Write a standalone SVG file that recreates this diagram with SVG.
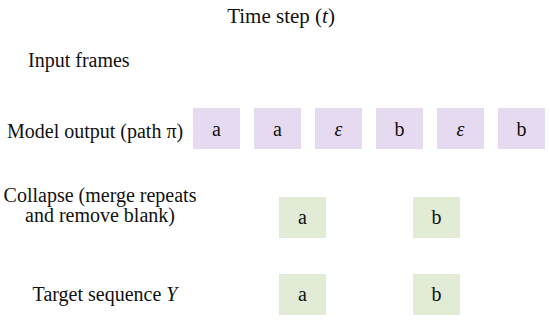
<svg xmlns="http://www.w3.org/2000/svg" width="550" height="322" viewBox="0 0 550 322">
<style>
text{font-size:20px;fill:#111}
.c{text-anchor:middle}
.p{fill:#E6DAF0}
.g{fill:#E2EBD5}
</style>
<rect width="550" height="322" fill="#fff"/>
<g font-family="Liberation Serif, Tinos, Times New Roman, DejaVu Serif, serif">
<g id="title"><text class="c" x="281" y="23" style="font-size:21px">Time step (<tspan font-style="italic">t</tspan>)</text></g>
<g id="label-input"><text x="28" y="67">Input frames</text></g>
<g id="label-model"><text x="7" y="138">Model output (path π)</text></g>
<g id="label-collapse"><text class="c" x="100" y="202">Collapse (merge repeats</text><text class="c" x="100" y="222">and remove blank)</text></g>
<g id="label-target"><text class="c" x="105" y="301">Target sequence <tspan font-style="italic">Y</tspan></text></g>
<g id="m1"><rect class="p" x="193" y="108" width="47" height="41"/><text class="c" x="216.5" y="136">a</text></g>
<g id="m2"><rect class="p" x="254" y="108" width="47" height="41"/><text class="c" x="277.5" y="136">a</text></g>
<g id="m3"><rect class="p" x="315" y="108" width="47" height="41"/><text class="c" x="338.5" y="136" font-style="italic">ε</text></g>
<g id="m4"><rect class="p" x="376" y="108" width="47" height="41"/><text class="c" x="399.5" y="136">b</text></g>
<g id="m5"><rect class="p" x="437" y="108" width="47" height="41"/><text class="c" x="460.5" y="136" font-style="italic">ε</text></g>
<g id="m6"><rect class="p" x="498" y="108" width="47" height="41"/><text class="c" x="521.5" y="136">b</text></g>
<g id="c1"><rect class="g" x="279" y="197" width="47" height="41"/><text class="c" x="302.5" y="224">a</text></g>
<g id="c2"><rect class="g" x="413" y="197" width="47" height="41"/><text class="c" x="436.5" y="224">b</text></g>
<g id="t1"><rect class="g" x="279" y="274" width="47" height="41"/><text class="c" x="302.5" y="301">a</text></g>
<g id="t2"><rect class="g" x="413" y="274" width="47" height="41"/><text class="c" x="436.5" y="301">b</text></g>
</g>
<g id="connectors"></g>
</svg>
